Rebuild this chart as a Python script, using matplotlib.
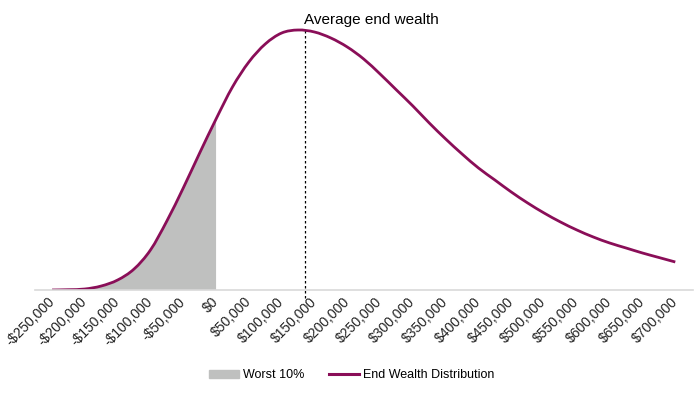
import matplotlib.pyplot as plt
from matplotlib.patches import Patch, PathPatch
from matplotlib.lines import Line2D
from matplotlib.path import Path

plt.rcParams['font.family'] = ['Liberation Sans', 'DejaVu Sans']

# end wealth values (in $) and curve height (relative units)
wealth = [-250000, -225000, -200000, -175000, -150000, -125000, -100000, -75000,
          -50000, -25000, 0, 25000, 50000, 75000, 100000, 125000, 150000, 175000,
          200000, 225000, 250000, 275000, 300000, 325000, 350000, 375000, 400000,
          425000, 450000, 475000, 500000, 525000, 550000, 575000, 600000, 625000,
          650000, 675000, 700000]
density = [0, 0.3, 1, 4, 10, 21, 40, 69, 102, 137, 171, 203, 228, 246, 257, 260,
           258, 252, 243, 231, 216, 200, 184, 167, 151, 136, 122, 110, 98, 87, 77,
           68, 60, 53, 47, 42, 37, 32.5, 28]
average_wealth = 135000
tick_values = list(range(-250000, 700001, 50000))

line_color = "#8A0E58"
fill_color = "#BFC0BF"

def money(v):
    return f"-${-v:,}" if v < 0 else f"${v:,}"

def smooth_path(xs, ys):
    # Excel-style smoothed line: bezier segments through the data points
    pts = list(zip(xs, ys))
    verts = [pts[0]]
    codes = [Path.MOVETO]
    n = len(pts)
    for i in range(n - 1):
        p0 = pts[i - 1] if i > 0 else pts[i]
        p1 = pts[i]
        p2 = pts[i + 1]
        p3 = pts[i + 2] if i + 2 < n else pts[i + 1]
        c1 = (p1[0] + (p2[0] - p0[0]) / 6, p1[1] + (p2[1] - p0[1]) / 6)
        c2 = (p2[0] - (p3[0] - p1[0]) / 6, p2[1] - (p3[1] - p1[1]) / 6)
        verts += [c1, c2, p2]
        codes += [Path.CURVE4] * 3
    return verts, codes

fig = plt.figure(figsize=(6.96, 3.95), dpi=100)
ax = fig.add_axes([35 / 696, 105 / 395, 658 / 696, 280 / 395])

# worst 10% shaded area (left tail up to $0)
n_worst = sum(1 for w in wealth if w <= 0)
fv, fc = smooth_path(wealth[:n_worst], density[:n_worst])
fv += [(wealth[n_worst - 1], 0), (wealth[0], 0), (wealth[0], 0)]
fc += [Path.LINETO, Path.LINETO, Path.CLOSEPOLY]
ax.add_patch(PathPatch(Path(fv, fc), facecolor=fill_color, edgecolor="none"))

lv, lc = smooth_path(wealth, density)
ax.add_patch(PathPatch(Path(lv, lc), facecolor="none", edgecolor=line_color,
                       linewidth=2.0, capstyle="butt"))

# dashed marker for the average
peak = max(density)
ax.plot([average_wealth, average_wealth], [-8, peak - 1], color="black",
        linestyle=(0, (2, 2)), linewidth=0.9, clip_on=False)
ax.text(average_wealth - 1000, peak + 3, "Average end wealth", fontsize=11,
        ha="left", va="bottom")

ax.set_xlim(-276000, 727000)
ax.set_ylim(0, 280)
for side in ["top", "right", "left"]:
    ax.spines[side].set_visible(False)
ax.spines["bottom"].set_color("#D9D9D9")
ax.spines["bottom"].set_linewidth(1.2)
ax.set_yticks([])
ax.set_xticks(tick_values)
ax.set_xticklabels([money(v) for v in tick_values], rotation=45, ha="right",
                   va="center", rotation_mode="anchor", fontsize=10, color="#222222")
ax.tick_params(axis="x", length=0, pad=7)

handles = [Patch(color=fill_color, label="Worst 10%"),
           Line2D([0], [0], color=line_color, linewidth=2.2, label="End Wealth Distribution")]
fig.legend(handles=handles, loc="center", bbox_to_anchor=(0.505, 20 / 395), ncol=2,
           frameon=False, fontsize=9, handlelength=2.4, handleheight=0.6,
           columnspacing=2.0, handletextpad=0.3)

fig.savefig("out.png", dpi=100)
